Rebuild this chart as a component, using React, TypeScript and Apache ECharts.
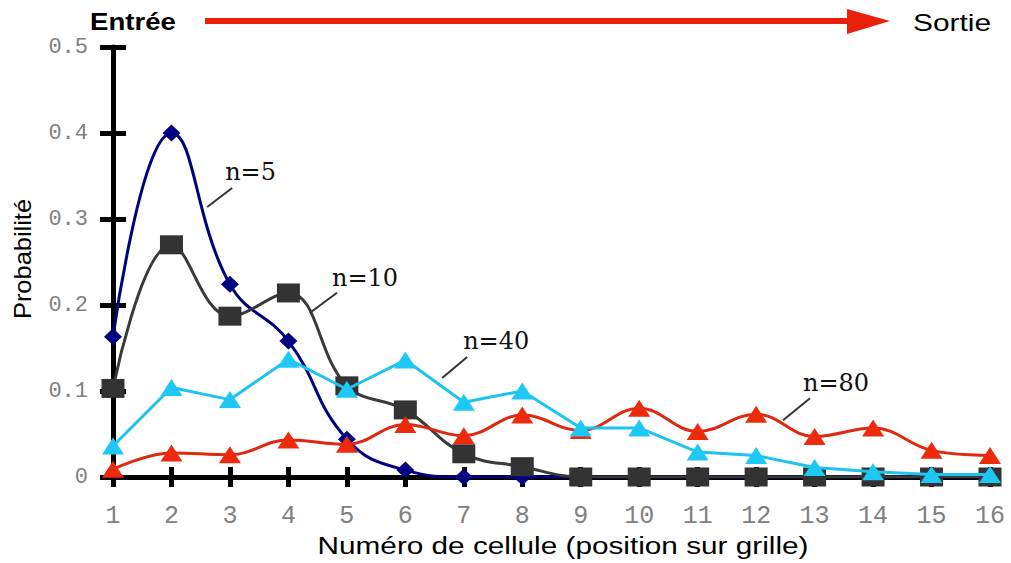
import React, { useEffect, useRef } from "react";
import * as echarts from "echarts";

const cells = [1, 2, 3, 4, 5, 6, 7, 8, 9, 10, 11, 12, 13, 14, 15, 16];
const n5 = [0.163, 0.4, 0.224, 0.158, 0.044, 0.008, 0, 0, 0, 0, 0, 0, 0, 0, 0, 0];
const n10 = [0.103, 0.27, 0.187, 0.214, 0.106, 0.078, 0.027, 0.012, 0, 0, 0, 0, 0, 0, 0, 0];
const n40 = [0.036, 0.104, 0.09, 0.137, 0.102, 0.136, 0.087, 0.1, 0.057, 0.057, 0.029, 0.025, 0.011, 0.006, 0.003, 0.003];
const n80 = [0.009, 0.028, 0.026, 0.043, 0.038, 0.061, 0.048, 0.072, 0.054, 0.08, 0.053, 0.073, 0.047, 0.057, 0.031, 0.025];
const yTicks = [0, 0.1, 0.2, 0.3, 0.4, 0.5];

const xTitle = "Numéro de cellule (position sur grille)";
const yTitle = "Probabilité";
const inLabel = "Entrée";
const outLabel = "Sortie";

// annotation: label, data point where leader meets curve, leader vector, text offset
const annotations = [
  { label: "n=5", x: 2.61, y: 0.314, dx: 25, dy: -19, tx: 18, ty: -35 },
  { label: "n=10", x: 4.37, y: 0.191, dx: 27, dy: -20, tx: 22, ty: -35 },
  { label: "n=40", x: 6.63, y: 0.115, dx: 25, dy: -21, tx: 21, ty: -37 },
  { label: "n=80", x: 12.46, y: 0.066, dx: 27, dy: -22, tx: 20, ty: -37 },
];

const pairs = (vals: number[]) => cells.map((c, i) => [c, vals[i]]);

export default function App() {
  const ref = useRef<HTMLDivElement>(null);
  useEffect(() => {
    if (!ref.current) return;
    const chart = echarts.init(ref.current, null, { renderer: "svg" });
    const xBase = {
      type: "value",
      min: 1,
      max: 16,
      interval: 1,
      position: "bottom",
      splitLine: { show: false },
    };
    const yBase = {
      type: "value",
      min: 0,
      max: 0.5,
      interval: 0.1,
      position: "left",
      splitLine: { show: false },
    };
    const option: any = {
      animation: false,
      backgroundColor: "#fff",
      grid: { left: 113, right: 21, top: 47, bottom: 86, containLabel: false, outerBoundsMode: "none" },
      xAxis: [
        {
          ...xBase,
          axisLine: { show: true, lineStyle: { color: "#000", width: 5 } },
          axisTick: { show: true, inside: false, length: 10, lineStyle: { color: "#000", width: 5 } },
          axisLabel: { fontFamily: "Liberation Mono", fontSize: 25, color: "#808080", margin: 27 },
        },
        {
          ...xBase,
          axisLine: { show: false },
          axisTick: { show: true, inside: true, length: 10, lineStyle: { color: "#000", width: 5 } },
          axisLabel: { show: false },
        },
      ],
      yAxis: [
        {
          ...yBase,
          axisLine: { show: true, lineStyle: { color: "#000", width: 5 } },
          axisTick: { show: true, inside: false, length: 13, lineStyle: { color: "#000", width: 5 } },
          axisLabel: {
            fontFamily: "Liberation Mono",
            fontSize: 22,
            color: "#808080",
            margin: 25,
            formatter: (v: number) => (yTicks.indexOf(+v.toFixed(1)) >= 0 ? String(+v.toFixed(1)) : ""),
          },
        },
        {
          ...yBase,
          axisLine: { show: false },
          axisTick: { show: true, inside: true, length: 13, lineStyle: { color: "#000", width: 5 } },
          axisLabel: { show: false },
        },
      ],
      series: [
        {
          name: "n=5",
          type: "line",
          data: pairs(n5),
          smooth: 0.45,
          symbol: "diamond",
          symbolSize: [18, 17],
          lineStyle: { color: "#000080", width: 3 },
          itemStyle: { color: "#000080" },
          z: 2,
        },
        {
          name: "n=10",
          type: "line",
          data: pairs(n10),
          smooth: 0.4,
          symbol: "rect",
          symbolSize: [23, 19],
          lineStyle: { color: "#3a3a3a", width: 3 },
          itemStyle: { color: "#333333" },
          z: 3,
        },
        {
          name: "n=80",
          type: "line",
          data: pairs(n80),
          smooth: 0.4,
          symbol: "triangle",
          symbolSize: [22, 17],
          lineStyle: { color: "#e0280f", width: 3 },
          itemStyle: { color: "#ee2a0c" },
          z: 4,
        },
        {
          name: "n=40",
          type: "line",
          data: pairs(n40),
          smooth: false,
          symbol: "triangle",
          symbolSize: [22, 17],
          lineStyle: { color: "#1ec3f0", width: 3 },
          itemStyle: { color: "#1ec8f5" },
          z: 5,
        },
      ],
    };
    chart.setOption(option);

    const graphics: any[] = [
      {
        type: "text",
        x: 90,
        y: 22,
        scaleX: 1.2,
        style: {
          text: inLabel,
          fontFamily: "Liberation Sans",
          fontSize: 23,
          fontWeight: "bold",
          fill: "#000",
          align: "left",
          verticalAlign: "middle",
        },
      },
      {
        type: "text",
        x: 913,
        y: 23,
        scaleX: 1.3,
        style: {
          text: outLabel,
          fontFamily: "Liberation Sans",
          fontSize: 23,
          fill: "#000",
          align: "left",
          verticalAlign: "middle",
        },
      },
      {
        type: "line",
        shape: { x1: 205, y1: 21, x2: 852, y2: 21 },
        style: { stroke: "#e8200a", lineWidth: 6 },
      },
      {
        type: "polygon",
        shape: { points: [[847, 9], [890, 21], [847, 34]] },
        style: { fill: "#e8200a" },
      },
      {
        type: "text",
        x: 563,
        y: 546,
        scaleX: 1.24,
        style: {
          text: xTitle,
          fontFamily: "Liberation Sans",
          fontSize: 24,
          fill: "#000",
          align: "center",
          verticalAlign: "middle",
        },
      },
      {
        type: "text",
        x: 23,
        y: 259,
        rotation: Math.PI / 2,
        scaleX: 1.06,
        style: {
          text: yTitle,
          fontFamily: "Liberation Sans",
          fontSize: 24,
          fill: "#000",
          align: "center",
          verticalAlign: "middle",
        },
      },
    ];
    annotations.forEach((a) => {
      const p = chart.convertToPixel({ gridIndex: 0 }, [a.x, a.y]) as number[];
      graphics.push({
        type: "line",
        shape: { x1: p[0], y1: p[1], x2: p[0] + a.dx, y2: p[1] + a.dy },
        style: { stroke: "#333", lineWidth: 2 },
        z: 10,
      });
      graphics.push({
        type: "text",
        x: p[0] + a.tx,
        y: p[1] + a.ty,
        style: {
          text: a.label,
          fontFamily: "DejaVu Serif",
          fontSize: 24,
          fill: "#111",
          verticalAlign: "middle",
          align: "left",
        },
        z: 10,
      });
    });
    chart.setOption({ graphic: graphics });

    return () => chart.dispose();
  }, []);
  return (
    <div
      ref={ref}
      style={{ position: "fixed", left: 0, top: 0, width: 1011, height: 563 }}
    />
  );
}
